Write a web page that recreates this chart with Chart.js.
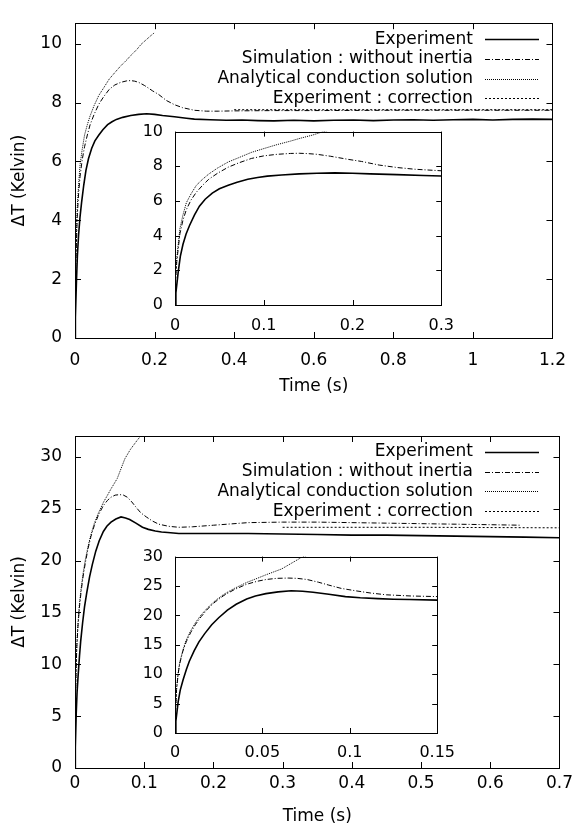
<!DOCTYPE html>
<html>
<head>
<meta charset="utf-8">
<script src="https://cdn.jsdelivr.net/npm/chart.js@4"></script>
<style>
  body { margin: 0; background: #fff; }
  #wrap { position: relative; width: 578px; height: 827px; background: #fff; }
  canvas { position: absolute; }
</style>
</head>
<body>
<div id="wrap">
  <canvas id="topMain" width="578" height="410" style="left:0;top:0"></canvas>
  <canvas id="topInset" width="345" height="235" style="left:120px;top:110px"></canvas>
  <canvas id="botMain" width="578" height="417" style="left:0;top:410px"></canvas>
  <canvas id="botInset" width="345" height="240" style="left:120px;top:535px"></canvas>
</div>
<script>
// ---- top panel data (time in s, delta T in Kelvin) ----
const topExpTime = [0, 0.001, 0.0036, 0.006, 0.009, 0.0125, 0.0165, 0.022, 0.0275, 0.034, 0.042, 0.05, 0.06, 0.07, 0.082, 0.093, 0.104, 0.12, 0.14, 0.16, 0.18, 0.2, 0.22, 0.25, 0.28, 0.3, 0.34, 0.38, 0.42, 0.46, 0.5, 0.55, 0.6, 0.65, 0.7, 0.75, 0.8, 0.85, 0.9, 0.95, 1.0, 1.05, 1.1, 1.15, 1.2];
const topExpDT   = [0, 0.7, 1.9, 2.8, 3.5, 4.1, 4.6, 5.2, 5.7, 6.1, 6.45, 6.7, 6.9, 7.08, 7.25, 7.35, 7.43, 7.5, 7.56, 7.6, 7.62, 7.6, 7.56, 7.52, 7.47, 7.44, 7.42, 7.4, 7.41, 7.39, 7.38, 7.4, 7.38, 7.4, 7.41, 7.39, 7.41, 7.42, 7.4, 7.42, 7.43, 7.41, 7.43, 7.44, 7.43];

const topSimTime = [0, 0.0008, 0.002, 0.0055, 0.009, 0.0128, 0.018, 0.024, 0.031, 0.038, 0.048, 0.06, 0.072, 0.086, 0.1, 0.115, 0.13, 0.14, 0.15, 0.16, 0.175, 0.195, 0.21, 0.23, 0.25, 0.27, 0.3, 0.33, 0.36, 0.4, 0.5, 0.6, 0.8, 1.0, 1.2];
const topSimDT   = [0, 1.5, 2.5, 4.1, 4.9, 5.5, 6.05, 6.5, 6.9, 7.25, 7.6, 7.95, 8.2, 8.45, 8.6, 8.69, 8.74, 8.75, 8.73, 8.69, 8.58, 8.4, 8.28, 8.07, 7.93, 7.83, 7.74, 7.71, 7.71, 7.72, 7.73, 7.73, 7.74, 7.74, 7.74];

const topAnaTime = [0, 0.0008, 0.002, 0.0055, 0.009, 0.0128, 0.018, 0.024, 0.031, 0.038, 0.048, 0.06, 0.072, 0.086, 0.1, 0.115, 0.13, 0.14, 0.155, 0.166, 0.18, 0.19, 0.2];
const topAnaDT   = [0, 1.8, 2.7, 4.4, 5.2, 5.9, 6.4, 6.9, 7.25, 7.55, 7.9, 8.25, 8.5, 8.8, 9.02, 9.25, 9.45, 9.6, 9.8, 9.98, 10.15, 10.27, 10.38];

const topCorTime = [0.4, 0.8, 1.2];
const topCorDT   = [7.76, 7.76, 7.76];

// ---- bottom panel data ----
const botExpTime = [0, 0.0005, 0.0018, 0.003, 0.0046, 0.0065, 0.0082, 0.011, 0.0137, 0.017, 0.021, 0.025, 0.03, 0.035, 0.041, 0.046, 0.052, 0.059, 0.0665, 0.073, 0.079, 0.088, 0.0975, 0.106, 0.116, 0.125, 0.134, 0.15, 0.17, 0.2, 0.25, 0.3, 0.35, 0.4, 0.45, 0.5, 0.55, 0.6, 0.65, 0.7];
const botExpDT   = [0, 2.0, 5.3, 7.3, 9.0, 10.8, 12.2, 14.0, 15.5, 16.9, 18.4, 19.6, 20.9, 21.9, 22.8, 23.3, 23.7, 24.0, 24.2, 24.1, 23.95, 23.6, 23.2, 23.0, 22.85, 22.75, 22.7, 22.6, 22.6, 22.6, 22.6, 22.55, 22.5, 22.45, 22.45, 22.4, 22.35, 22.3, 22.25, 22.2];

const botSimTime = [0, 0.0003, 0.0009, 0.0018, 0.0027, 0.0045, 0.0064, 0.009, 0.0118, 0.015, 0.019, 0.023, 0.028, 0.034, 0.041, 0.047, 0.052, 0.058, 0.0647, 0.07, 0.0756, 0.082, 0.088, 0.095, 0.103, 0.112, 0.121, 0.135, 0.15, 0.17, 0.2, 0.25, 0.3, 0.35, 0.4, 0.5, 0.6, 0.645];
const botSimDT   = [0, 3.5, 7.4, 10.0, 11.8, 13.9, 15.5, 17.1, 18.5, 19.8, 21.2, 22.3, 23.4, 24.4, 25.3, 25.8, 26.1, 26.3, 26.35, 26.3, 26.1, 25.65, 25.15, 24.6, 24.2, 23.8, 23.5, 23.3, 23.2, 23.25, 23.4, 23.65, 23.7, 23.7, 23.65, 23.55, 23.45, 23.4];

const botAnaTime = [0, 0.0003, 0.0009, 0.0018, 0.0027, 0.0045, 0.0064, 0.009, 0.0118, 0.015, 0.019, 0.023, 0.028, 0.034, 0.041, 0.047, 0.052, 0.061, 0.072, 0.08, 0.09, 0.1];
const botAnaDT   = [0, 3.8, 7.6, 10.2, 12.0, 14.1, 15.8, 17.4, 18.8, 20.1, 21.4, 22.5, 23.6, 24.6, 25.6, 26.3, 26.9, 27.9, 29.8, 30.7, 31.6, 32.4];

const botCorTime = [0.3, 0.5, 0.7];
const botCorDT   = [23.2, 23.2, 23.15];

// ---- tick labels ----
const topMainXTicks = [0, 0.2, 0.4, 0.6, 0.8, 1, 1.2];
const topMainYTicks = [0, 2, 4, 6, 8, 10];
const topInsetXTicks = [0, 0.1, 0.2, 0.3];
const topInsetYTicks = [0, 2, 4, 6, 8, 10];
const botMainXTicks = [0, 0.1, 0.2, 0.3, 0.4, 0.5, 0.6, 0.7];
const botMainYTicks = [0, 5, 10, 15, 20, 25, 30];
const botInsetXTicks = [0, 0.05, 0.1, 0.15];
const botInsetYTicks = [0, 5, 10, 15, 20, 25, 30];

const FONT = "'DejaVu Sans', sans-serif";

// line look of each series, same order in every panel
const seriesStyle = [
  { label: 'Experiment', width: 1.6, dash: [] },
  { label: 'Simulation : without inertia', width: 1, dash: [5, 2, 1, 2] },
  { label: 'Analytical conduction solution', width: 1, dash: [1, 1] },
  { label: 'Experiment : correction', width: 1, dash: [2, 2] }
];

function zip(ts, vs) {
  return ts.map((t, i) => ({ x: t, y: vs[i] }));
}

function fmt(v) {
  return String(Math.round(v * 1000) / 1000);
}

// gnuplot style box with inward ticks on all four sides
const frameTicks = {
  id: 'frameTicks',
  afterDatasetsDraw(chart, args, opts) {
    const { ctx, chartArea: a, scales: { x, y } } = chart;
    const len = opts.len;
    ctx.save();
    ctx.strokeStyle = '#000';
    ctx.lineWidth = 1;
    ctx.setLineDash([]);
    ctx.beginPath();
    x.ticks.forEach(t => {
      const px = Math.round(x.getPixelForValue(t.value)) + 0.5;
      ctx.moveTo(px, a.bottom); ctx.lineTo(px, a.bottom - len);
      ctx.moveTo(px, a.top); ctx.lineTo(px, a.top + len);
    });
    y.ticks.forEach(t => {
      const py = Math.round(y.getPixelForValue(t.value)) + 0.5;
      ctx.moveTo(a.left, py); ctx.lineTo(a.left + len, py);
      ctx.moveTo(a.right, py); ctx.lineTo(a.right - len, py);
    });
    ctx.stroke();
    ctx.strokeRect(Math.round(a.left) + 0.5, Math.round(a.top) + 0.5,
                   Math.round(a.right - a.left), Math.round(a.bottom - a.top));
    ctx.restore();
  }
};

// key in the top right corner: text right aligned, sample line after it
const keyLegend = {
  id: 'keyLegend',
  afterDatasetsDraw(chart, args, o) {
    const { ctx, chartArea } = chart;
    ctx.save();
    ctx.font = '17px ' + FONT;
    ctx.fillStyle = '#000';
    ctx.strokeStyle = '#000';
    ctx.textAlign = 'right';
    ctx.textBaseline = 'middle';
    chart.data.datasets.forEach((ds, i) => {
      const y = chartArea.top + o.top + i * o.gap;
      ctx.fillText(ds.label, o.textX, y);
      ctx.beginPath();
      ctx.setLineDash(ds.borderDash || []);
      ctx.lineWidth = ds.borderWidth;
      ctx.moveTo(o.x1, Math.round(y) + 0.5);
      ctx.lineTo(o.x2, Math.round(y) + 0.5);
      ctx.stroke();
    });
    ctx.restore();
  }
};

function makeChart(id, sets, c) {
  const ctx = document.getElementById(id).getContext('2d');
  return new Chart(ctx, {
    type: 'line',
    data: {
      datasets: sets.map((s, i) => ({
        label: seriesStyle[i].label,
        data: zip(s[0], s[1]),
        borderColor: '#000',
        borderWidth: seriesStyle[i].width,
        borderDash: seriesStyle[i].dash,
        pointRadius: 0,
        tension: 0,
        fill: false
      }))
    },
    options: {
      responsive: false,
      animation: false,
      devicePixelRatio: 1,
      events: [],
      layout: { padding: c.pad },
      plugins: {
        legend: { display: false },
        tooltip: { enabled: false },
        keyLegend: c.key || false,
        frameTicks: { len: c.tickLen }
      },
      scales: {
        x: {
          type: 'linear', min: 0, max: c.xMax,
          grid: { display: false, drawTicks: false },
          border: { display: false },
          afterBuildTicks: s => { s.ticks = c.xTicks.map(v => ({ value: v })); },
          afterFit: s => { s.height = c.xHeight; },
          ticks: { autoSkip: false, maxRotation: 0, padding: c.xPad, color: '#000',
                   font: { family: FONT, size: c.fs }, callback: fmt },
          title: c.xTitle
            ? { display: true, text: c.xTitle, color: '#000', font: { family: FONT, size: 17 },
                padding: { top: 0, bottom: c.xTitlePad } }
            : { display: false }
        },
        y: {
          type: 'linear', min: 0, max: c.yMax,
          grid: { display: false, drawTicks: false },
          border: { display: false },
          afterBuildTicks: s => { s.ticks = c.yTicks.map(v => ({ value: v })); },
          afterFit: s => { s.width = c.yWidth; },
          ticks: { autoSkip: false, padding: c.yPad, color: '#000',
                   font: { family: FONT, size: c.fs }, callback: fmt },
          title: c.yTitle
            ? { display: true, text: c.yTitle, color: '#000', font: { family: FONT, size: 17 },
                padding: { top: 9, bottom: 0 } }
            : { display: false }
        }
      }
    },
    plugins: [frameTicks, keyLegend]
  });
}

const topSets = [[topExpTime, topExpDT], [topSimTime, topSimDT], [topAnaTime, topAnaDT], [topCorTime, topCorDT]];
const botSets = [[botExpTime, botExpDT], [botSimTime, botSimDT], [botAnaTime, botAnaDT], [botCorTime, botCorDT]];

const key = { textX: 473, x1: 485, x2: 539, top: 16, gap: 19.7 };

makeChart('topMain', topSets, {
  xMax: 1.2, yMax: 10.7, xTicks: topMainXTicks, yTicks: topMainYTicks,
  pad: { left: 0, top: 7, right: 15, bottom: 0 }, yWidth: 75, xHeight: 72,
  fs: 17, xPad: 12, yPad: 13, tickLen: 6,
  xTitle: 'Time (s)', xTitlePad: 13, yTitle: 'ΔT (Kelvin)', key: key
});

makeChart('topInset', topSets, {
  xMax: 0.3, yMax: 10, xTicks: topInsetXTicks, yTicks: topInsetYTicks,
  pad: { left: 0, top: 9, right: 22, bottom: 0 }, yWidth: 55, xHeight: 40,
  fs: 16, xPad: 11, yPad: 12, tickLen: 5
});

makeChart('botMain', botSets, {
  xMax: 0.7, yMax: 32, xTicks: botMainXTicks, yTicks: botMainYTicks,
  pad: { left: 0, top: 26, right: 15, bottom: 0 }, yWidth: 75, xHeight: 59,
  fs: 17, xPad: 5, yPad: 13, tickLen: 6,
  xTitle: 'Time (s)', xTitlePad: 0, yTitle: 'ΔT (Kelvin)', key: key
});

makeChart('botInset', botSets, {
  xMax: 0.15, yMax: 30, xTicks: botInsetXTicks, yTicks: botInsetYTicks,
  pad: { left: 0, top: 12, right: 21, bottom: 0 }, yWidth: 55, xHeight: 42,
  fs: 16, xPad: 10, yPad: 12, tickLen: 5
});
</script>
</body>
</html>
